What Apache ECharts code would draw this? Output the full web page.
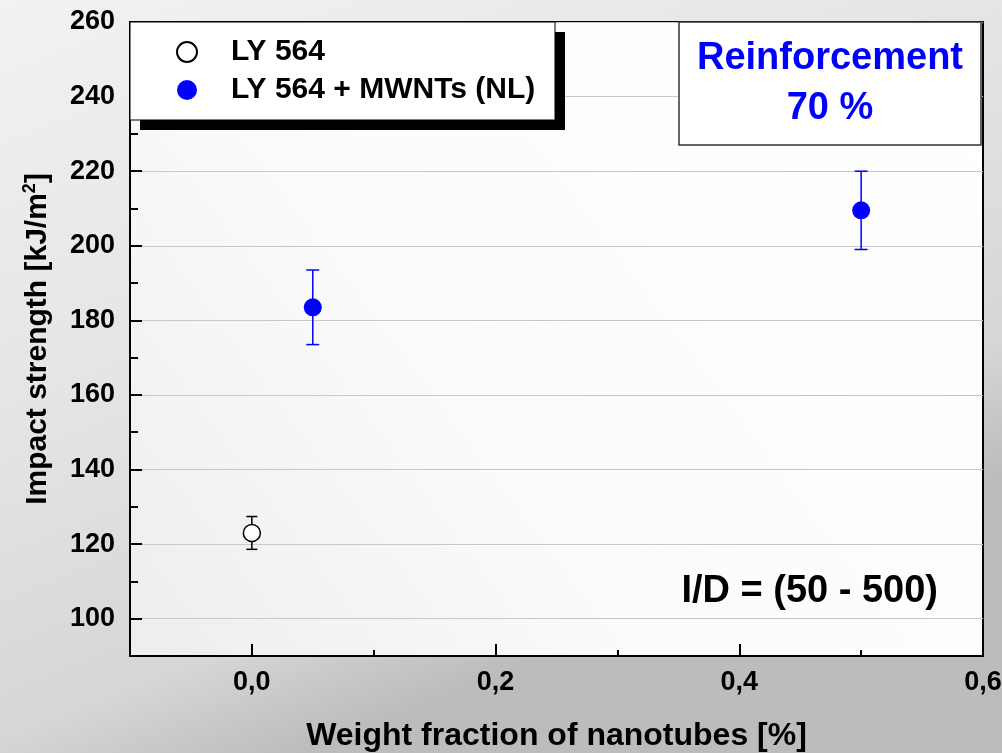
<!DOCTYPE html>
<html>
<head>
<meta charset="utf-8">
<script src="https://cdn.jsdelivr.net/npm/echarts@6/dist/echarts.min.js"></script>
<style>html,body{margin:0;padding:0;}#c{width:1002px;height:753px;}</style>
</head>
<body>
<div id="c"></div>
<script>
// ---- data ----
const seriesNames = ['LY 564', 'LY 564 + MWNTs (NL)'];
const neatX = [0];
const neatY = [123];
const neatErr = [4.4];
const mwntX = [0.05, 0.5];
const mwntY = [183.5, 209.5];
const mwntErr = [10, 10.5];
const xLabelValues = [0, 0.2, 0.4, 0.6];
const xMajorTicks = [0, 0.2, 0.4, 0.6];
const yLabelValues = [100, 120, 140, 160, 180, 200, 220, 240, 260];
const yMajorTicks = [100, 120, 140, 160, 180, 200, 220, 240, 260];

const FONT = 'Liberation Sans, Arial, Helvetica, sans-serif';
const neatData = neatX.map((x, i) => [x, neatY[i]]);
const mwntData = mwntX.map((x, i) => [x, mwntY[i]]);
const neatBars = neatX.map((x, i) => [x, neatY[i] - neatErr[i], neatY[i] + neatErr[i]]);
const mwntBars = mwntX.map((x, i) => [x, mwntY[i] - mwntErr[i], mwntY[i] + mwntErr[i]]);

function errRender(color, cap) {
  return function (params, api) {
    const x = api.value(0);
    const lo = api.coord([x, api.value(1)]);
    const hi = api.coord([x, api.value(2)]);
    const st = { stroke: color, lineWidth: 1.5 };
    return {
      type: 'group',
      children: [
        { type: 'line', shape: { x1: lo[0], y1: lo[1], x2: hi[0], y2: hi[1] }, style: st },
        { type: 'line', shape: { x1: lo[0] - cap, y1: lo[1], x2: lo[0] + cap, y2: lo[1] }, style: st },
        { type: 'line', shape: { x1: hi[0] - cap, y1: hi[1], x2: hi[0] + cap, y2: hi[1] }, style: st }
      ]
    };
  };
}

const chart = echarts.init(document.getElementById('c'));
const labelStyle = { color: '#000', fontWeight: 'bold', fontSize: 27, fontFamily: FONT };
const gridLineColors = [];
for (let v = 90; v <= 260; v += 10) gridLineColors.push(yMajorTicks.indexOf(v) >= 0 ? '#c8c8c8' : 'rgba(0,0,0,0)');

chart.setOption({
  backgroundColor: {
    type: 'linear', x: 0, y: 0, x2: 0.3, y2: 1,
    colorStops: [
      { offset: 0, color: '#f2f2f2' },
      { offset: 0.5, color: '#e4e4e4' },
      { offset: 0.85, color: '#d6d6d6' },
      { offset: 1, color: '#bcbcbc' }
    ]
  },
  animation: false,
  grid: {
    left: 130, top: 22, right: 19, bottom: 97,
    outerBoundsMode: 'none', containLabel: false,
    show: true, borderColor: '#000', borderWidth: 2,
    backgroundColor: {
      type: 'linear', x: 1, y: 0, x2: 0, y2: 1,
      colorStops: [{ offset: 0, color: '#ffffff' }, { offset: 0.6, color: '#fbfbfb' }, { offset: 1, color: '#ededed' }]
    }
  },
  legend: {
    data: seriesNames,
    orient: 'vertical',
    left: 176, top: 37,
    padding: 0,
    itemWidth: 20, itemHeight: 20, itemGap: 8,
    selectedMode: false,
    z: 6,
    textStyle: { color: '#000', fontWeight: 'bold', fontSize: 30, fontFamily: FONT, lineHeight: 30, padding: [0, 0, 0, 29] }
  },
  xAxis: [{
    type: 'value', min: -0.1, max: 0.6, interval: 0.1,
    name: 'Weight fraction of nanotubes [%]', nameLocation: 'middle', nameGap: 64,
    nameTextStyle: { color: '#000', fontWeight: 'bold', fontSize: 32, fontFamily: FONT },
    axisLine: { onZero: false, lineStyle: { color: '#000', width: 2 } },
    axisTick: { inside: true, length: 6, lineStyle: { color: '#000', width: 2 } },
    axisLabel: Object.assign({ customValues: xLabelValues, margin: 13, formatter: v => v.toFixed(1).replace('.', ',') }, labelStyle),
    splitLine: { show: false }
  }, {
    type: 'value', min: -0.1, max: 0.6, interval: 0.1, position: 'bottom',
    axisLine: { show: false, onZero: false },
    axisTick: { inside: true, length: 12, customValues: xMajorTicks, lineStyle: { color: '#000', width: 2 } },
    axisLabel: { show: false },
    splitLine: { show: false }
  }],
  yAxis: [{
    type: 'value', min: 90, max: 260, interval: 10,
    name: 'Impact strength [kJ/m{sup|2}]', nameLocation: 'middle', nameGap: 75, nameRotate: 90,
    nameTextStyle: {
      color: '#000', fontWeight: 'bold', fontSize: 30, fontFamily: FONT,
      rich: { sup: { color: '#000', fontWeight: 'bold', fontSize: 18, fontFamily: FONT, verticalAlign: 'top', padding: [0, 0, 16, 0] } }
    },
    axisLine: { onZero: false, lineStyle: { color: '#000', width: 2 } },
    axisTick: { inside: true, length: 8, lineStyle: { color: '#000', width: 2 } },
    axisLabel: Object.assign({ customValues: yLabelValues, margin: 15 }, labelStyle),
    splitLine: { show: true, lineStyle: { color: gridLineColors, width: 1 } }
  }, {
    type: 'value', min: 90, max: 260, interval: 10, position: 'left',
    axisLine: { show: false, onZero: false },
    axisTick: { inside: true, length: 12, customValues: yMajorTicks, lineStyle: { color: '#000', width: 2 } },
    axisLabel: { show: false },
    splitLine: { show: false }
  }],
  graphic: [
    { type: 'rect', z: 3, shape: { x: 140, y: 32, width: 425, height: 98 }, style: { fill: '#000' } },
    { type: 'rect', z: 3, shape: { x: 130, y: 22, width: 425, height: 98 }, style: { fill: '#fff', stroke: '#000', lineWidth: 1 } },
    { type: 'rect', z: 3, shape: { x: 679, y: 22, width: 302, height: 123 }, style: { fill: '#fff', stroke: '#333', lineWidth: 1.5 } },
    { type: 'text', z: 4, style: { text: 'Reinforcement\n70 %', x: 830, y: 84, textAlign: 'center', textVerticalAlign: 'middle', fontSize: 38, fontWeight: 'bold', fontFamily: FONT, fill: '#0000ff', lineHeight: 50 } },
    { type: 'text', z: 4, style: { text: 'I/D = (50 - 500)', x: 938, y: 592, textAlign: 'right', textVerticalAlign: 'middle', fontSize: 38, fontWeight: 'bold', fontFamily: FONT, fill: '#000' } }
  ],
  series: [
    { name: 'neat-err', type: 'custom', renderItem: errRender('#000', 5.5), data: neatBars, z: 2, silent: true },
    { name: 'mwnt-err', type: 'custom', renderItem: errRender('#0000ff', 6.5), data: mwntBars, z: 2, silent: true },
    { name: seriesNames[0], type: 'scatter', symbol: 'circle', symbolSize: 17, data: neatData, z: 4,
      itemStyle: { color: '#fff', borderColor: '#000', borderWidth: 1.5, opacity: 1 } },
    { name: seriesNames[1], type: 'scatter', symbol: 'circle', symbolSize: 18, data: mwntData, z: 4,
      itemStyle: { color: '#0000ff', opacity: 1 } }
  ]
});
</script>
</body>
</html>
